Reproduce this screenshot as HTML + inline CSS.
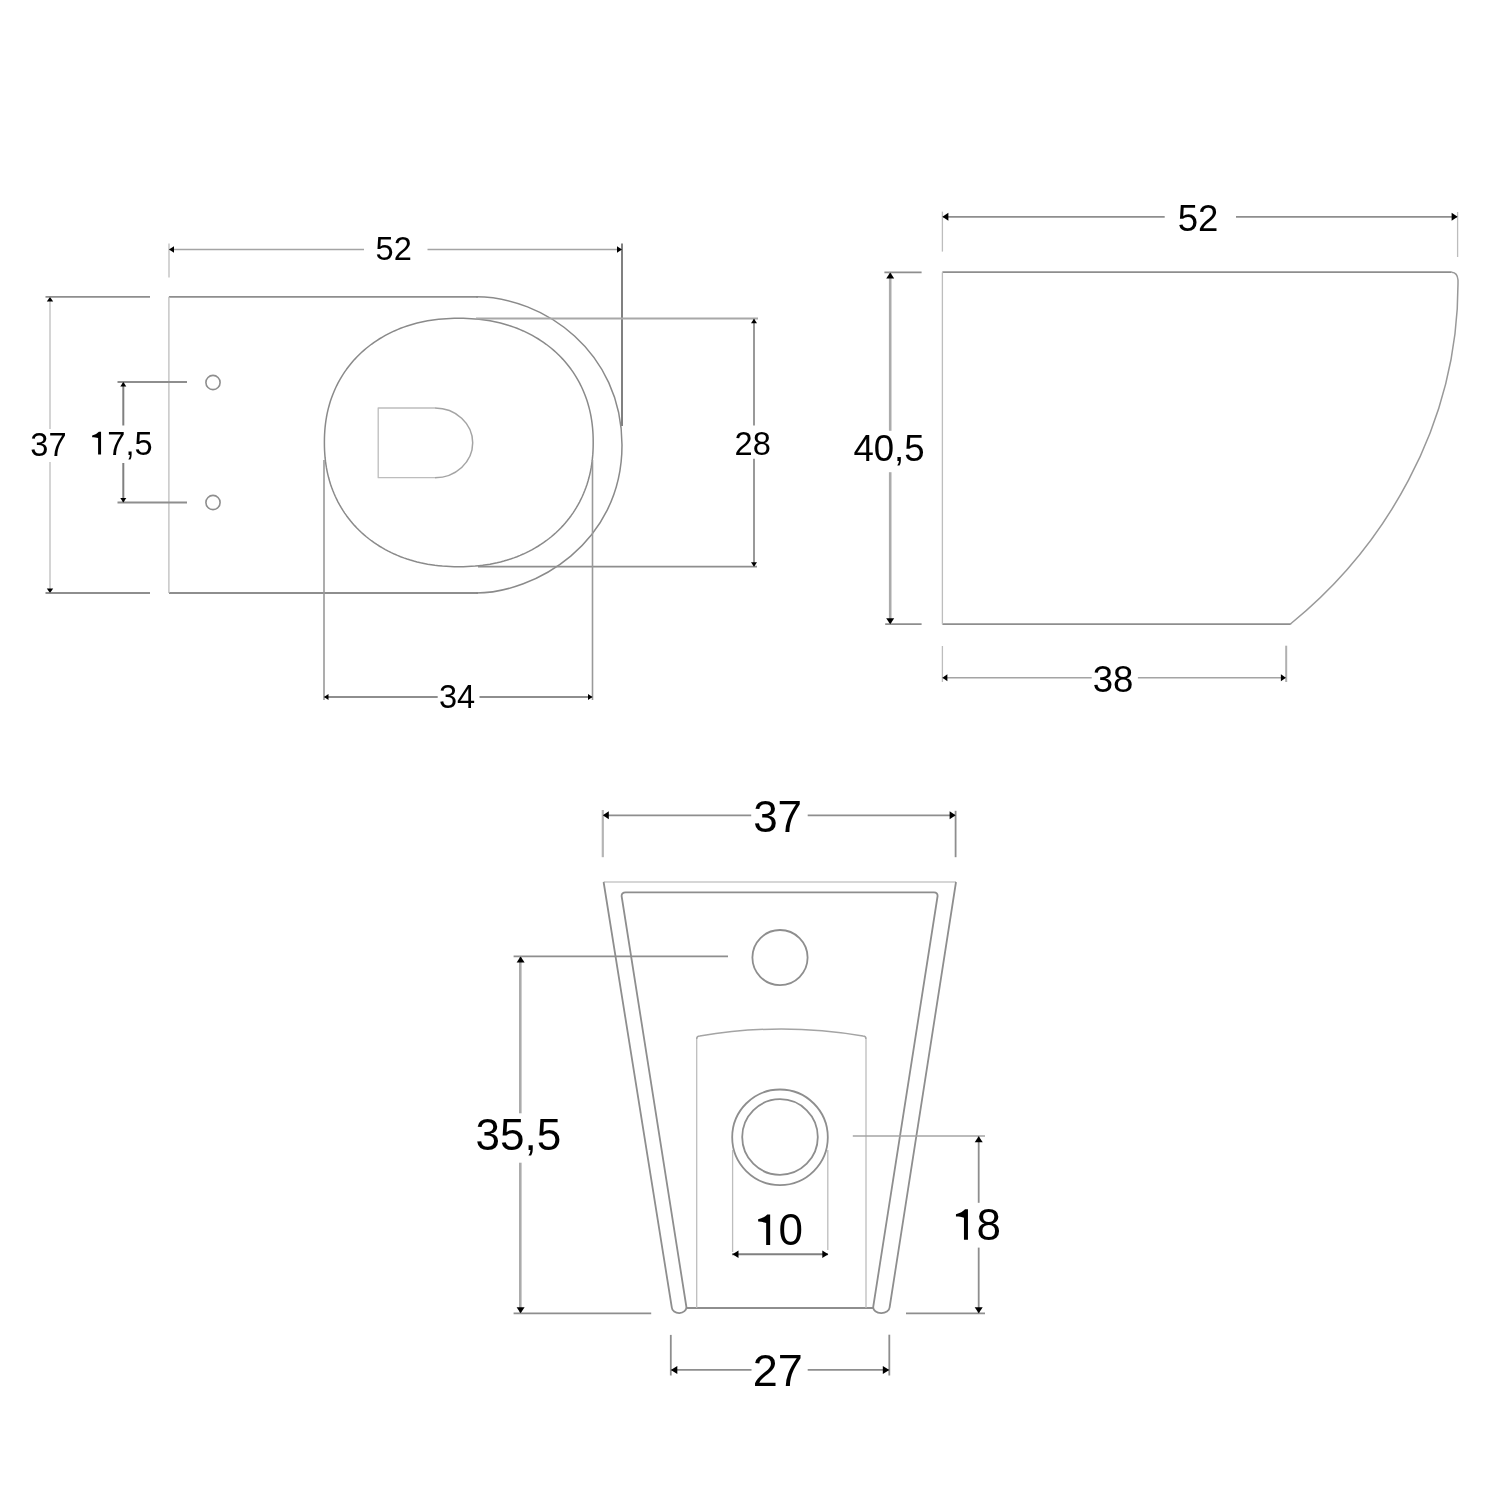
<!DOCTYPE html>
<html><head><meta charset="utf-8"><style>
html,body{margin:0;padding:0;background:#fff;}
svg{display:block;will-change:transform;}
text{font-family:"Liberation Sans",sans-serif;fill:#000;-webkit-font-smoothing:antialiased;}
</style></head><body>
<svg width="1500" height="1500" viewBox="0 0 1500 1500">
<rect width="1500" height="1500" fill="#fff"/>
<line x1="169" y1="249.5" x2="364" y2="249.5" stroke="#a4a4a4" stroke-width="1.5"/>
<line x1="427.5" y1="249.5" x2="622" y2="249.5" stroke="#a4a4a4" stroke-width="1.5"/>
<line x1="169" y1="243.5" x2="169" y2="277.5" stroke="#bdbdbd" stroke-width="1.3"/>
<line x1="622" y1="243.5" x2="622" y2="426" stroke="#808080" stroke-width="2.0"/>
<polygon points="169.0,249.5 174.0,246.3 174.0,252.7" fill="#000"/>
<polygon points="622.0,249.5 617.0,246.3 617.0,252.7" fill="#000"/>
<text x="375.57" y="259.6" font-size="32.6">52</text>
<line x1="169" y1="296.8" x2="478" y2="296.8" stroke="#8e8e8e" stroke-width="1.8"/>
<line x1="169" y1="593" x2="478" y2="593" stroke="#8e8e8e" stroke-width="1.8"/>
<line x1="168.9" y1="296.8" x2="168.9" y2="593" stroke="#bdbdbd" stroke-width="1.3"/>
<path d="M476,296.8 C544,296.8 622,352 622,445 C622,544 534,593 476,593" fill="none" stroke="#8a8a8a" stroke-width="1.5" stroke-linejoin="round"/>
<line x1="45.5" y1="296.8" x2="150" y2="296.8" stroke="#8e8e8e" stroke-width="1.8"/>
<line x1="45.5" y1="593" x2="150" y2="593" stroke="#8e8e8e" stroke-width="1.8"/>
<line x1="50" y1="297" x2="50" y2="429" stroke="#bdbdbd" stroke-width="1.3"/>
<line x1="50" y1="462" x2="50" y2="593" stroke="#bdbdbd" stroke-width="1.3"/>
<polygon points="50.0,297.0 46.8,301.5 53.2,301.5" fill="#000"/>
<polygon points="50.0,593.0 46.8,588.5 53.2,588.5" fill="#000"/>
<text x="30.37" y="456" font-size="32.6">37</text>
<line x1="117.5" y1="382" x2="187" y2="382" stroke="#8e8e8e" stroke-width="1.8"/>
<line x1="117.5" y1="502.5" x2="187" y2="502.5" stroke="#8e8e8e" stroke-width="1.8"/>
<line x1="123.3" y1="382" x2="123.3" y2="425.5" stroke="#808080" stroke-width="2.0"/>
<line x1="123.3" y1="463" x2="123.3" y2="502.5" stroke="#808080" stroke-width="2.0"/>
<polygon points="123.3,382.0 120.3,386.5 126.3,386.5" fill="#000"/>
<polygon points="123.3,502.5 120.3,498.0 126.3,498.0" fill="#000"/>
<path d="M560,0 H746 V1425 H610 C520,1330 370,1240 187,1195 V1090 C310,1092 460,1065 560,1030 Z" transform="translate(89.18,454.5) scale(0.01592,-0.01592)" fill="#000"/>
<text x="107.31" y="454.5" font-size="32.6">7,5</text>
<circle cx="213" cy="382.5" r="7.1" fill="none" stroke="#8e8e8e" stroke-width="1.6"/>
<circle cx="213" cy="502.5" r="7.1" fill="none" stroke="#8e8e8e" stroke-width="1.6"/>
<path d="M593.20,442.50 L593.16,446.69 L593.03,450.49 L592.81,454.14 L592.51,457.70 L592.13,461.19 L591.66,464.61 L591.11,467.99 L590.47,471.31 L589.74,474.59 L588.93,477.82 L588.04,481.01 L587.07,484.16 L586.01,487.26 L584.88,490.31 L583.66,493.32 L582.36,496.29 L580.98,499.21 L579.52,502.08 L577.98,504.90 L576.37,507.68 L574.68,510.40 L572.91,513.07 L571.07,515.69 L569.15,518.26 L567.16,520.77 L565.10,523.23 L562.97,525.63 L560.77,527.97 L558.50,530.25 L556.16,532.47 L553.76,534.63 L551.29,536.73 L548.75,538.76 L546.16,540.73 L543.50,542.64 L540.78,544.48 L538.00,546.25 L535.17,547.95 L532.28,549.58 L529.33,551.15 L526.33,552.64 L523.27,554.06 L520.16,555.41 L517.01,556.68 L513.80,557.88 L510.54,559.01 L507.23,560.06 L503.88,561.04 L500.48,561.94 L497.03,562.76 L493.53,563.50 L489.98,564.17 L486.38,564.76 L482.73,565.28 L479.02,565.71 L475.25,566.07 L471.39,566.34 L467.44,566.54 L463.34,566.66 L458.80,566.70 L454.26,566.66 L450.16,566.54 L446.21,566.34 L442.35,566.07 L438.58,565.71 L434.87,565.28 L431.22,564.76 L427.62,564.17 L424.07,563.50 L420.57,562.76 L417.12,561.94 L413.72,561.04 L410.37,560.06 L407.06,559.01 L403.80,557.88 L400.59,556.68 L397.44,555.41 L394.33,554.06 L391.27,552.64 L388.27,551.15 L385.32,549.58 L382.43,547.95 L379.60,546.25 L376.82,544.48 L374.10,542.64 L371.44,540.73 L368.85,538.76 L366.31,536.73 L363.84,534.63 L361.44,532.47 L359.10,530.25 L356.83,527.97 L354.63,525.63 L352.50,523.23 L350.44,520.77 L348.45,518.26 L346.53,515.69 L344.69,513.07 L342.92,510.40 L341.23,507.68 L339.62,504.90 L338.08,502.08 L336.62,499.21 L335.24,496.29 L333.94,493.32 L332.72,490.31 L331.59,487.26 L330.53,484.16 L329.56,481.01 L328.67,477.82 L327.86,474.59 L327.13,471.31 L326.49,467.99 L325.94,464.61 L325.47,461.19 L325.09,457.70 L324.79,454.14 L324.57,450.49 L324.44,446.69 L324.40,442.50 L324.44,438.31 L324.57,434.51 L324.79,430.86 L325.09,427.30 L325.47,423.81 L325.94,420.39 L326.49,417.01 L327.13,413.69 L327.86,410.41 L328.67,407.18 L329.56,403.99 L330.53,400.84 L331.59,397.74 L332.72,394.69 L333.94,391.68 L335.24,388.71 L336.62,385.79 L338.08,382.92 L339.62,380.10 L341.23,377.32 L342.92,374.60 L344.69,371.93 L346.53,369.31 L348.45,366.74 L350.44,364.23 L352.50,361.77 L354.63,359.37 L356.83,357.03 L359.10,354.75 L361.44,352.53 L363.84,350.37 L366.31,348.27 L368.85,346.24 L371.44,344.27 L374.10,342.36 L376.82,340.52 L379.60,338.75 L382.43,337.05 L385.32,335.42 L388.27,333.85 L391.27,332.36 L394.33,330.94 L397.44,329.59 L400.59,328.32 L403.80,327.12 L407.06,325.99 L410.37,324.94 L413.72,323.96 L417.12,323.06 L420.57,322.24 L424.07,321.50 L427.62,320.83 L431.22,320.24 L434.87,319.72 L438.58,319.29 L442.35,318.93 L446.21,318.66 L450.16,318.46 L454.26,318.34 L458.80,318.30 L463.34,318.34 L467.44,318.46 L471.39,318.66 L475.25,318.93 L479.02,319.29 L482.73,319.72 L486.38,320.24 L489.98,320.83 L493.53,321.50 L497.03,322.24 L500.48,323.06 L503.88,323.96 L507.23,324.94 L510.54,325.99 L513.80,327.12 L517.01,328.32 L520.16,329.59 L523.27,330.94 L526.33,332.36 L529.33,333.85 L532.28,335.42 L535.17,337.05 L538.00,338.75 L540.78,340.52 L543.50,342.36 L546.16,344.27 L548.75,346.24 L551.29,348.27 L553.76,350.37 L556.16,352.53 L558.50,354.75 L560.77,357.03 L562.97,359.37 L565.10,361.77 L567.16,364.23 L569.15,366.74 L571.07,369.31 L572.91,371.93 L574.68,374.60 L576.37,377.32 L577.98,380.10 L579.52,382.92 L580.98,385.79 L582.36,388.71 L583.66,391.68 L584.88,394.69 L586.01,397.74 L587.07,400.84 L588.04,403.99 L588.93,407.18 L589.74,410.41 L590.47,413.69 L591.11,417.01 L591.66,420.39 L592.13,423.81 L592.51,427.30 L592.81,430.86 L593.03,434.51 L593.16,438.31 Z" fill="none" stroke="#8a8a8a" stroke-width="1.5" stroke-linejoin="round"/>
<path d="M435,408 H378.2 V477.7 H435" fill="none" stroke="#bdbdbd" stroke-width="1.3" stroke-linejoin="round"/>
<path d="M435,408 A37.7,34.85 0 0 1 435,477.7" fill="none" stroke="#a4a4a4" stroke-width="1.5" stroke-linejoin="round"/>
<line x1="476" y1="318.6" x2="758" y2="318.6" stroke="#a8a8a8" stroke-width="2.0"/>
<line x1="478" y1="566.7" x2="757" y2="566.7" stroke="#8e8e8e" stroke-width="1.8"/>
<line x1="754" y1="318.7" x2="754" y2="425.6" stroke="#8e8e8e" stroke-width="1.8"/>
<line x1="754" y1="458.8" x2="754" y2="566.7" stroke="#8e8e8e" stroke-width="1.8"/>
<polygon points="754.0,318.7 751.0,323.2 757.0,323.2" fill="#000"/>
<polygon points="754.0,566.7 751.0,562.2 757.0,562.2" fill="#000"/>
<text x="734.57" y="454.7" font-size="32.6">28</text>
<line x1="324" y1="460" x2="324" y2="700" stroke="#999" stroke-width="1.6"/>
<line x1="592.5" y1="460" x2="592.5" y2="700" stroke="#999" stroke-width="1.6"/>
<line x1="324" y1="697" x2="437.7" y2="697" stroke="#8e8e8e" stroke-width="1.8"/>
<line x1="479.5" y1="697" x2="592.5" y2="697" stroke="#8e8e8e" stroke-width="1.8"/>
<polygon points="324.0,697.0 328.5,694.0 328.5,700.0" fill="#000"/>
<polygon points="592.5,697.0 588.0,694.0 588.0,700.0" fill="#000"/>
<text x="438.97" y="708.1" font-size="32.6">34</text>
<line x1="942.4" y1="216.8" x2="1164.7" y2="216.8" stroke="#8e8e8e" stroke-width="1.8"/>
<line x1="1236" y1="216.8" x2="1457.6" y2="216.8" stroke="#8e8e8e" stroke-width="1.8"/>
<line x1="942.4" y1="211.6" x2="942.4" y2="251.6" stroke="#bdbdbd" stroke-width="1.3"/>
<line x1="1457.6" y1="212" x2="1457.6" y2="257" stroke="#bdbdbd" stroke-width="1.3"/>
<polygon points="942.4,216.8 948.4,212.8 948.4,220.8" fill="#000"/>
<polygon points="1457.6,216.8 1451.6,212.8 1451.6,220.8" fill="#000"/>
<text x="1177.64" y="230.5" font-size="36.6">52</text>
<line x1="942.4" y1="272.2" x2="1451.7" y2="272.2" stroke="#8e8e8e" stroke-width="1.8"/>
<path d="M1451.7,272.2 Q1457.5,272.6 1458,280 C1459.2,428.6 1380.5,550.8 1291,623.5 L1290.7,624.2" fill="none" stroke="#999999" stroke-width="1.5" stroke-linejoin="round"/>
<line x1="1290.7" y1="624.2" x2="942.4" y2="624.2" stroke="#8e8e8e" stroke-width="1.8"/>
<line x1="942.4" y1="272.2" x2="942.4" y2="624.2" stroke="#bdbdbd" stroke-width="1.3"/>
<line x1="884.4" y1="272.4" x2="921.6" y2="272.4" stroke="#8e8e8e" stroke-width="1.8"/>
<line x1="885.2" y1="624.2" x2="921.6" y2="624.2" stroke="#8e8e8e" stroke-width="1.8"/>
<line x1="890.2" y1="272.4" x2="890.2" y2="430.8" stroke="#ababab" stroke-width="2.6"/>
<line x1="890.2" y1="472.2" x2="890.2" y2="624.2" stroke="#ababab" stroke-width="2.6"/>
<polygon points="890.2,272.4 886.2,278.4 894.2,278.4" fill="#000"/>
<polygon points="890.2,624.2 886.2,618.2 894.2,618.2" fill="#000"/>
<text x="853.38" y="461" font-size="36.6">40,5</text>
<line x1="942.4" y1="646" x2="942.4" y2="682" stroke="#bdbdbd" stroke-width="1.3"/>
<line x1="1286.2" y1="645.7" x2="1286.2" y2="682" stroke="#b0b0b0" stroke-width="2.0"/>
<line x1="942.4" y1="677.8" x2="1091.7" y2="677.8" stroke="#a4a4a4" stroke-width="1.5"/>
<line x1="1137.9" y1="677.8" x2="1285.9" y2="677.8" stroke="#a4a4a4" stroke-width="1.5"/>
<polygon points="942.4,677.8 947.4,674.3 947.4,681.3" fill="#000"/>
<polygon points="1285.9,677.8 1280.9,674.3 1280.9,681.3" fill="#000"/>
<text x="1092.64" y="691.5" font-size="36.6">38</text>
<line x1="602.8" y1="815.3" x2="751.2" y2="815.3" stroke="#8e8e8e" stroke-width="1.8"/>
<line x1="807.7" y1="815.3" x2="955.6" y2="815.3" stroke="#8e8e8e" stroke-width="1.8"/>
<line x1="602.8" y1="810" x2="602.8" y2="857.2" stroke="#b5b5b5" stroke-width="2.2"/>
<line x1="955.6" y1="810.8" x2="955.6" y2="857.2" stroke="#8e8e8e" stroke-width="1.8"/>
<polygon points="602.8,815.3 608.8,811.3 608.8,819.3" fill="#000"/>
<polygon points="955.6,815.3 949.6,811.3 949.6,819.3" fill="#000"/>
<text x="753.13" y="832.1" font-size="44">37</text>
<line x1="603.6" y1="882" x2="956" y2="882" stroke="#c8c8c8" stroke-width="1.5"/>
<path d="M603.6,882 L671.8,1307.5 A7.3,5.8 0 0 0 686.4,1307 L621.6,896 Q621.6,892.4 625.6,892.4 H934 Q937.6,892.4 937.6,896 L873.2,1307 A8.2,5.8 0 0 0 889.6,1307.5 L956,882" fill="none" stroke="#8e8e8e" stroke-width="1.8" stroke-linejoin="round"/>
<line x1="686.5" y1="1308" x2="873" y2="1308" stroke="#8e8e8e" stroke-width="1.8"/>
<line x1="513.6" y1="956.4" x2="728" y2="956.4" stroke="#8e8e8e" stroke-width="1.8"/>
<line x1="513.6" y1="1313.3" x2="651.2" y2="1313.3" stroke="#8e8e8e" stroke-width="1.8"/>
<line x1="520.3" y1="956.4" x2="520.3" y2="1113.3" stroke="#ababab" stroke-width="2.6"/>
<line x1="520.3" y1="1162.7" x2="520.3" y2="1313.3" stroke="#ababab" stroke-width="2.6"/>
<polygon points="520.6,956.4 516.6,962.4 524.6,962.4" fill="#000"/>
<polygon points="520.6,1313.3 516.6,1307.3 524.6,1307.3" fill="#000"/>
<text x="475.53" y="1149.6" font-size="44">35,5</text>
<circle cx="780" cy="957.6" r="27.6" fill="none" stroke="#8e8e8e" stroke-width="1.8"/>
<line x1="696.7" y1="1039" x2="696.7" y2="1308" stroke="#bdbdbd" stroke-width="1.3"/>
<line x1="866" y1="1039" x2="866" y2="1308" stroke="#bdbdbd" stroke-width="1.3"/>
<path d="M696.7,1039 Q696.7,1036 699.7,1036 Q781,1022 863,1036 Q866,1036 866,1039" fill="none" stroke="#a4a4a4" stroke-width="1.5" stroke-linejoin="round"/>
<circle cx="780" cy="1137.3" r="47.8" fill="none" stroke="#8e8e8e" stroke-width="1.8"/>
<circle cx="780" cy="1137" r="37.8" fill="none" stroke="#8e8e8e" stroke-width="1.8"/>
<line x1="732.6" y1="1150" x2="732.6" y2="1252" stroke="#bdbdbd" stroke-width="1.3"/>
<line x1="827.8" y1="1150" x2="827.8" y2="1250" stroke="#bdbdbd" stroke-width="1.3"/>
<line x1="732" y1="1254.3" x2="828" y2="1254.3" stroke="#808080" stroke-width="2.0"/>
<polygon points="732.5,1254.3 738.5,1250.5 738.5,1258.1" fill="#000"/>
<polygon points="828.3,1254.3 822.3,1250.5 822.3,1258.1" fill="#000"/>
<path d="M560,0 H746 V1425 H610 C520,1330 370,1240 187,1195 V1090 C310,1092 460,1065 560,1030 Z" transform="translate(754.13,1245) scale(0.02148,-0.02148)" fill="#000"/>
<text x="778.60" y="1245" font-size="44">0</text>
<line x1="852.8" y1="1136.1" x2="985" y2="1136.1" stroke="#a4a4a4" stroke-width="1.5"/>
<line x1="906" y1="1313.3" x2="985" y2="1313.3" stroke="#8e8e8e" stroke-width="1.8"/>
<line x1="978.7" y1="1136.1" x2="978.7" y2="1202.8" stroke="#8e8e8e" stroke-width="1.8"/>
<line x1="978.7" y1="1247.6" x2="978.7" y2="1313.3" stroke="#8e8e8e" stroke-width="1.8"/>
<polygon points="978.7,1136.3 974.7,1142.3 982.7,1142.3" fill="#000"/>
<polygon points="978.7,1313.3 974.7,1307.3 982.7,1307.3" fill="#000"/>
<path d="M560,0 H746 V1425 H610 C520,1330 370,1240 187,1195 V1090 C310,1092 460,1065 560,1030 Z" transform="translate(951.93,1239.8) scale(0.02148,-0.02148)" fill="#000"/>
<text x="976.40" y="1239.8" font-size="44">8</text>
<line x1="670.8" y1="1334.9" x2="670.8" y2="1375.5" stroke="#8e8e8e" stroke-width="1.8"/>
<line x1="889.3" y1="1334.7" x2="889.3" y2="1375.5" stroke="#8e8e8e" stroke-width="1.8"/>
<line x1="670.8" y1="1369.9" x2="751.5" y2="1369.9" stroke="#8e8e8e" stroke-width="1.8"/>
<line x1="807.7" y1="1369.9" x2="889.3" y2="1369.9" stroke="#8e8e8e" stroke-width="1.8"/>
<polygon points="670.8,1369.9 677.3,1365.9 677.3,1373.9" fill="#000"/>
<polygon points="889.3,1369.9 882.8,1365.9 882.8,1373.9" fill="#000"/>
<text x="752.72" y="1386.2" font-size="45">27</text>
</svg>
</body></html>
